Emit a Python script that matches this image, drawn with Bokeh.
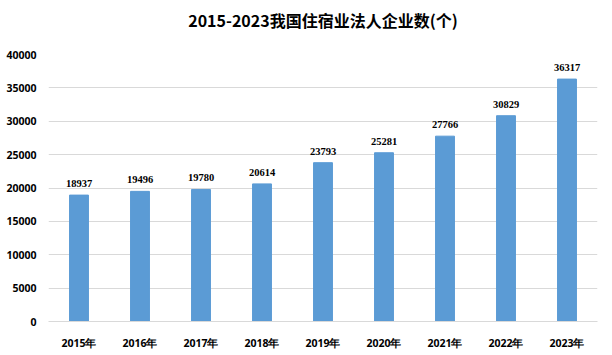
from bokeh.plotting import figure
from bokeh.models import ColumnDataSource, LabelSet, Title, FactorRange, Range1d, SingleIntervalTicker, NumeralTickFormatter
from bokeh.embed import file_html
from bokeh.resources import INLINE

years = ["2015年", "2016年", "2017年", "2018年", "2019年", "2020年", "2021年", "2022年", "2023年"]
counts = [18937, 19496, 19780, 20614, 23793, 25281, 27766, 30829, 36317]
title_text = "2015-2023我国住宿业法人企业数(个)"

src = ColumnDataSource(dict(x=years, y=counts, lbl=[str(v) for v in counts]))

FONT = "Open Sans"

p = figure(width=612, height=355, x_range=FactorRange(*years, range_padding=0),
           y_range=Range1d(0, 40000), output_backend="svg", toolbar_location=None,
           title=None,
           min_border_left=48, min_border_right=15, min_border_top=52, min_border_bottom=34)

p.vbar(x="x", top="y", width=0.31, color="#5B9BD5", source=src)

labels = LabelSet(x="x", y="y", text="lbl", source=src, y_offset=8, text_align="center",
                  text_baseline="bottom", text_font=FONT, text_font_style="bold",
                  text_font_size="10.5px", text_color="#000000")
p.add_layout(labels)

spacer = Title(text=" ", text_font_size="6px")
p.add_layout(spacer, "above")
main_title = Title(text=title_text, align="center", text_font="Noto Sans CJK SC",
                   text_font_size="16px", text_font_style="bold", text_color="#000000")
p.add_layout(main_title, "above")

p.yaxis.ticker = SingleIntervalTicker(interval=5000)
p.yaxis.formatter = NumeralTickFormatter(format="0")
p.yaxis.axis_line_color = None
p.yaxis.major_tick_line_color = None
p.yaxis.minor_tick_line_color = None
p.yaxis.major_label_text_font = FONT
p.yaxis.major_label_text_font_style = "bold"
p.yaxis.major_label_text_font_size = "10.5px"
p.yaxis.major_label_text_color = "#000000"
p.yaxis.major_label_standoff = 6

p.xaxis.axis_line_color = "#d9d9d9"
p.xaxis.major_tick_line_color = None
p.xaxis.minor_tick_line_color = None
p.xaxis.major_label_text_font = FONT
p.xaxis.major_label_text_font_style = "bold"
p.xaxis.major_label_text_font_size = "10.5px"
p.xaxis.major_label_text_color = "#000000"
p.xaxis.major_label_standoff = 8

p.xgrid.grid_line_color = None
p.ygrid.grid_line_color = "#d9d9d9"
p.outline_line_color = None
p.background_fill_color = "#ffffff"
p.border_fill_color = "#ffffff"

open("out.html", "w").write(file_html(p, INLINE))
